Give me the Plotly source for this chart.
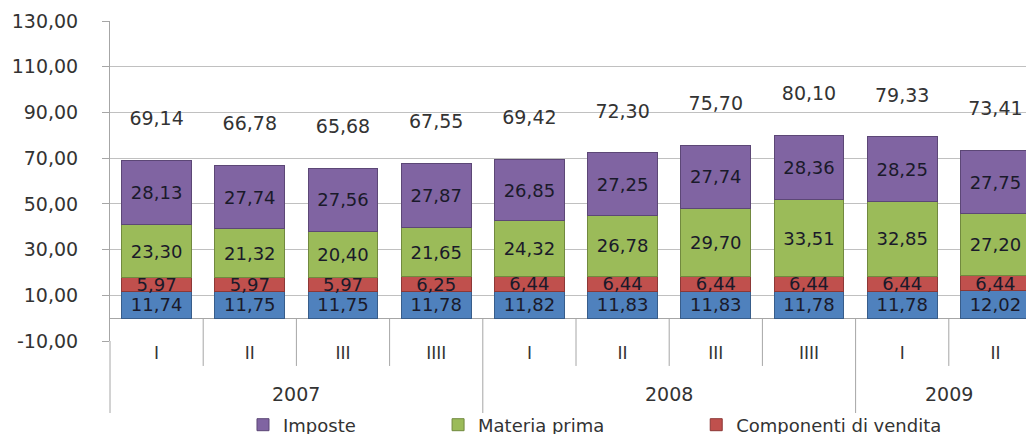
import plotly.graph_objects as go

# ---- data ----
quarters = ["I", "II", "III", "IIII", "I", "II", "III", "IIII", "I", "II"]
years = ["2007", "2007", "2007", "2007", "2008", "2008", "2008", "2008", "2009", "2009"]

servizi_rete = [11.74, 11.75, 11.75, 11.78, 11.82, 11.83, 11.83, 11.78, 11.78, 12.02]
componenti_vendita = [5.97, 5.97, 5.97, 6.25, 6.44, 6.44, 6.44, 6.44, 6.44, 6.44]
materia_prima = [23.30, 21.32, 20.40, 21.65, 24.32, 26.78, 29.70, 33.51, 32.85, 27.20]
imposte = [28.13, 27.74, 27.56, 27.87, 26.85, 27.25, 27.74, 28.36, 28.25, 27.75]
totali = [69.14, 66.78, 65.68, 67.55, 69.42, 72.30, 75.70, 80.10, 79.33, 73.41]

y_ticks = [-10, 10, 30, 50, 70, 90, 110, 130]

# ---- style ----
FONT = "DejaVu Sans"
Y_MIN, Y_MAX = -10, 130
TOTAL_OFFSET = 17.5
n = len(quarters)
xpos = list(range(n))


def it(v):
    return f"{v:.2f}".replace(".", ",")


series = [
    ("Servizi di rete", servizi_rete, "#4F81BD", "#385D8A", None),
    ("Componenti di vendita", componenti_vendita, "#C0504D", "#8C3836", "legend3"),
    ("Materia prima", materia_prima, "#9BBB59", "#71893F", "legend2"),
    ("Imposte", imposte, "#8064A2", "#5C4776", "legend"),
]

fig = go.Figure()
for name, vals, color, line, leg in series:
    fig.add_trace(go.Bar(
        x=xpos, y=vals, name=name, showlegend=leg is not None,
        legend=leg if leg else "legend",
        marker=dict(color=color, line=dict(color=line, width=1)),
        text=[it(v) for v in vals], textposition="inside", insidetextanchor="middle",
        textangle=0, textfont=dict(family=FONT, size=18, color="#1a1a2a"),
        cliponaxis=False,
    ))

fig.add_trace(go.Scatter(
    x=xpos, y=[t + TOTAL_OFFSET for t in totali], mode="text",
    text=[it(t) for t in totali],
    textposition="middle center", showlegend=False, hoverinfo="skip",
    textfont=dict(family=FONT, size=19, color="#333333"), cliponaxis=False,
))

# category separators and year separators
shapes = []
y_zero_paper = (0 - Y_MIN) / (Y_MAX - Y_MIN)
for k in range(n - 1):
    frac = (k + 1) / n
    group_break = years[k] != years[k + 1]
    shapes.append(dict(type="line", xref="x domain", yref="paper",
                       x0=frac, x1=frac, y0=y_zero_paper,
                       y1=-0.225 if group_break else -0.078,
                       line=dict(color="#a6a6a6", width=1)))
shapes.append(dict(type="line", xref="x domain", yref="paper", x0=0, x1=0,
                   y0=0, y1=-0.225, line=dict(color="#a6a6a6", width=1)))

annotations = []
for yr in dict.fromkeys(years):
    idx = [i for i, y in enumerate(years) if y == yr]
    annotations.append(dict(x=sum(idx) / len(idx), xref="x", y=-0.165, yref="paper",
                            text=yr, showarrow=False, yanchor="middle",
                            font=dict(family=FONT, size=19, color="#333333")))

leg_common = dict(orientation="h", xanchor="left", y=-0.2625, yanchor="middle",
                  font=dict(family=FONT, size=18, color="#333333"),
                  bgcolor="rgba(0,0,0,0)")

fig.update_layout(
    width=1034, height=434,
    margin=dict(l=102, r=0, t=13, b=101, autoexpand=False),
    paper_bgcolor="white", plot_bgcolor="white",
    barmode="stack", bargap=0.25,
    uniformtext=dict(minsize=18, mode="show"),
    shapes=shapes, annotations=annotations,
    legend=dict(x=0.1427, **leg_common),
    legend2=dict(x=0.352, **leg_common),
    legend3=dict(x=0.629, **leg_common),
    xaxis=dict(range=[-0.5, n - 0.5], tickvals=xpos, ticktext=quarters,
               showgrid=False, zeroline=False, showline=False, ticks="",
               automargin=False,
               tickfont=dict(family=FONT, size=17, color="#333333")),
    yaxis=dict(range=[Y_MIN, Y_MAX], tickvals=y_ticks,
               ticktext=[it(v) for v in y_ticks],
               showgrid=True, gridcolor="#c0c0c0", gridwidth=1,
               zeroline=True, zerolinecolor="#a6a6a6", zerolinewidth=1,
               showline=True, linecolor="#a6a6a6", linewidth=1,
               ticks="outside", ticklen=7, tickcolor="#a6a6a6",
               ticklabelstandoff=20, automargin=False,
               tickfont=dict(family=FONT, size=19, color="#333333")),
    font=dict(family=FONT),
)

fig.write_html("out.html")
